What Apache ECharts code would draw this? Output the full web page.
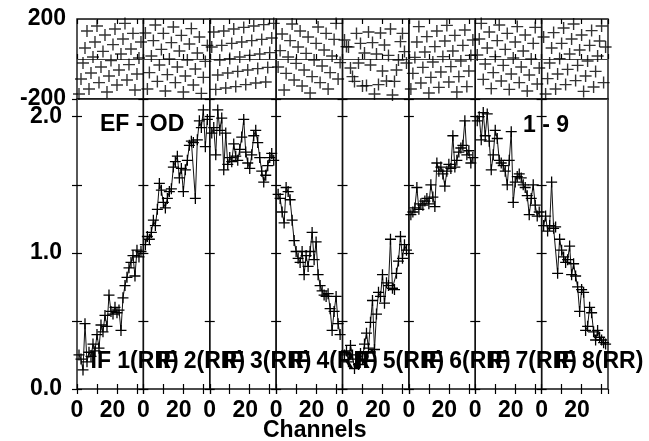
<!DOCTYPE html>
<html><head><meta charset="utf-8">
<script src="https://cdn.jsdelivr.net/npm/echarts@6/dist/echarts.min.js"></script>
<style>html,body{margin:0;padding:0;background:#fff}#c{width:649px;height:441px}</style>
</head><body><div id="c"></div>
<script>
// ---------- data ----------
const channels = [1,2,3,4,5,6,7,8,9,10,11,12,13,14,15,16,17,18,19,20,21,22,23,24,25,26,27,28,29,30,31,32];
const ifLabels = ['IF 1(RR)','IF 2(RR)','IF 3(RR)','IF 4(RR)','IF 5(RR)','IF 6(RR)','IF 7(RR)','IF 8(RR)'];
const sourceLabel = 'EF - OD';
const baselineLabel = '1 - 9';
const xAxisName = 'Channels';
const ampTickLabels = ['0.0','1.0','2.0'];
const phaseTickLabels = ['-200','200'];
const chanTickLabels = ['0','20'];

const amp1 = [0.25,0.22,0.14,0.48,0.20,0.27,0.24,0.33,0.28,0.40,0.30,0.47,0.42,0.54,0.46,0.69,0.57,0.55,0.60,0.56,0.58,0.43,0.67,0.76,0.82,0.89,0.93,0.98,0.83,1.02,0.97,1.01];
const amp2 = [1.06,1.12,1.10,1.15,1.24,1.20,1.32,1.51,1.46,1.37,1.33,1.40,1.45,1.47,1.63,1.67,1.71,1.55,1.62,1.45,1.61,1.68,1.79,1.82,1.81,1.40,1.83,1.97,1.92,2.05,1.78,1.98];
const amp3 = [1.88,1.92,1.72,2.05,1.90,1.99,1.61,1.88,1.65,1.70,1.67,1.80,1.71,1.68,1.76,1.85,1.98,1.74,1.66,1.62,1.72,1.86,1.90,1.81,1.70,1.60,1.52,1.57,1.64,1.70,1.73,1.68];
const amp4 = [1.43,1.40,1.30,1.22,1.48,1.45,1.39,1.24,1.09,1.01,0.96,0.93,1.01,0.84,0.98,0.90,1.01,1.15,0.95,1.08,0.84,0.76,0.72,0.69,0.68,0.70,0.59,0.43,0.57,0.68,0.48,0.40];
const amp5 = [0.25,0.28,0.20,0.32,0.25,0.15,0.22,0.18,0.26,0.22,0.33,0.41,0.30,0.49,0.65,0.29,0.55,0.71,0.68,0.84,0.63,0.78,0.76,1.10,0.74,0.73,0.85,0.94,1.12,0.96,1.06,1.02];
const amp6 = [1.28,1.30,1.33,1.48,1.32,1.36,1.35,1.38,1.40,1.36,1.50,1.41,1.34,1.66,1.60,1.63,1.58,1.49,1.60,1.65,1.62,1.86,1.63,1.68,1.74,1.77,1.79,1.97,1.72,1.75,1.66,1.70];
const amp7 = [1.97,2.00,1.83,2.03,1.86,2.02,1.82,1.61,1.72,1.90,1.84,1.68,1.66,1.64,1.60,1.50,1.68,1.89,1.37,1.52,1.56,1.58,1.55,1.50,1.48,1.42,1.28,1.40,1.50,1.35,1.27,1.30];
const amp8 = [1.20,1.27,1.16,1.20,1.52,1.18,1.19,0.85,1.10,1.02,0.97,0.93,0.95,1.05,0.84,0.92,0.83,0.75,0.57,0.73,0.71,0.43,0.46,0.60,0.56,0.42,0.36,0.43,0.38,0.36,0.34,0.33];

const phase1 = [-175,-100,-20,55,140,-150,-70,10,85,165,-118,-40,38,120,-165,-85,-8,72,150,-130,-55,25,100,178,-105,-28,50,128,-155,-75,5,85];
const phase2 = [130,-150,-68,15,92,170,-112,-30,48,128,-160,-78,0,82,160,-118,-40,40,118,-165,-85,-5,75,152,-130,-50,30,110,-172,-92,-12,68];
const phase3 = [60,135,-152,-80,-5,68,140,-145,-70,2,78,150,-138,-62,10,85,158,-128,-55,18,92,165,-120,-48,25,98,172,-115,-42,32,105,178];
const phase4 = [-40,42,125,-155,-72,10,92,175,-105,-22,60,140,-135,-55,28,110,-170,-88,-5,78,160,-118,-35,45,128,-150,-68,15,98,178,-100,-18];
const phase5 = [95,62,60,-45,-88,-112,128,-20,78,-135,30,-133,135,-30,82,-175,25,-128,130,-60,70,-110,18,150,-180,-112,-55,-5,87,128,37,-20];
const phase6 = [-150,-72,8,85,162,-120,-42,35,112,-170,-92,-15,62,140,-142,-65,12,90,168,-115,-38,40,118,-165,-88,-10,68,145,-138,-60,18,95];
const phase7 = [20,100,178,-102,-25,55,135,-148,-68,12,92,170,-110,-32,48,128,-152,-75,5,85,162,-118,-40,40,120,-160,-80,0,78,158,-125,-45];
const phase8 = [110,-175,-98,-20,55,132,-150,-75,2,78,155,-128,-52,25,100,175,-108,-32,45,120,-162,-85,-10,68,142,-140,-62,15,90,165,-118,60];

const ampSets = [amp1,amp2,amp3,amp4,amp5,amp6,amp7,amp8];
const phaseSets = [phase1,phase2,phase3,phase4,phase5,phase6,phase7,phase8];

// ---------- layout / style ----------
const FONT = 'Liberation Sans, Arial, Helvetica, sans-serif';
const FS = 23;
const plotLeft = 77, plotRight = 608;
const panelW = (plotRight - plotLeft) / 8;
const phaseTop = 19, phaseH = 80;
const ampTop = 99, ampH = 290;
const CROSS = 'path://M0,5.3H12V6.7H0Z M5.3,0H6.7V12H5.3Z';

const grid = [], xAxis = [], yAxis = [], series = [], graphic = [];
const tickStyle = {show:true, inside:true, length:5, lineStyle:{color:'#000', width:1.2}};

for (let p = 0; p < 8; p++) {
  const left = plotLeft + p * panelW;
  const gPh = grid.length;
  grid.push({left:left, top:phaseTop, width:panelW, height:phaseH, show:true, borderColor:'#111', borderWidth:1.4, backgroundColor:'transparent'});
  const gAm = grid.length;
  grid.push({left:left, top:ampTop, width:panelW, height:ampH, show:true, borderColor:'#111', borderWidth:1.4, backgroundColor:'transparent'});

  const xPh = xAxis.length;
  xAxis.push({type:'value', gridIndex:gPh, position:'bottom', min:0, max:33.2, interval:10, axisLine:{show:false}, axisTick:tickStyle, axisLabel:{show:false}, splitLine:{show:false}});
  xAxis.push({type:'value', gridIndex:gPh, position:'top', min:0, max:33.2, interval:10, axisLine:{show:false}, axisTick:tickStyle, axisLabel:{show:false}, splitLine:{show:false}});
  const xAm = xAxis.length;
  xAxis.push({type:'value', gridIndex:gAm, position:'bottom', min:0, max:33.2, interval:10,
    axisLine:{show:false}, axisTick:tickStyle, splitLine:{show:false},
    axisLabel:{show:true, margin:10, showMinLabel:true, showMaxLabel:false,
      color:'#000', fontFamily:FONT, fontWeight:'bold', fontSize:FS,
      formatter: v => v === 0 ? chanTickLabels[0] : (v === 20 ? '{s|' + chanTickLabels[1] + '}' : ''),
      rich:{s:{fontFamily:FONT, fontWeight:'bold', fontSize:FS, color:'#000', padding:[0,9,0,0]}}}});
  xAxis.push({type:'value', gridIndex:gAm, position:'top', min:0, max:33.2, interval:10, axisLine:{show:false}, axisTick:tickStyle, axisLabel:{show:false}, splitLine:{show:false}});

  const yPh = yAxis.length;
  yAxis.push({type:'value', gridIndex:gPh, position:'left', min:-200, max:200, interval:200,
    axisLine:{show:false}, axisTick:{show:false},
    splitLine:{show:true, lineStyle:{color:'#444', width:1.2}},
    axisLabel:{show:p === 0, margin:11, color:'#000', fontFamily:FONT, fontWeight:'bold', fontSize:FS,
      showMinLabel:true, showMaxLabel:true,
      formatter: v => v === -200 ? phaseTickLabels[0] : (v === 200 ? phaseTickLabels[1] : '')}});
  const yAm = yAxis.length;
  yAxis.push({type:'value', gridIndex:gAm, position:'left', min:0, max:2.13, interval:0.5,
    axisLine:{show:false}, axisTick:tickStyle, splitLine:{show:false},
    axisLabel:{show:p === 0, margin:15, color:'#000', fontFamily:FONT, fontWeight:'bold', fontSize:FS,
      showMinLabel:true, showMaxLabel:false,
      formatter: v => v === 0 ? ampTickLabels[0] : (v === 1 ? ampTickLabels[1] : (v === 2 ? ampTickLabels[2] : ''))}});
  yAxis.push({type:'value', gridIndex:gAm, position:'right', min:0, max:2.13, interval:0.5,
    axisLine:{show:false}, axisTick:tickStyle, axisLabel:{show:false}, splitLine:{show:false}});

  const amps = ampSets[p], phs = phaseSets[p];
  series.push({type:'line', xAxisIndex:xAm, yAxisIndex:yAm,
    data: channels.map((c, i) => [c, amps[i]]),
    symbol:CROSS, symbolSize:11, showSymbol:true, showAllSymbol:true,
    itemStyle:{color:'#000'}, lineStyle:{color:'#111', width:1}, silent:true});
  series.push({type:'scatter', xAxisIndex:xPh, yAxisIndex:yPh,
    data: channels.map((c, i) => [c, phs[i]]),
    symbol:CROSS, symbolSize:12, itemStyle:{color:'#000'}, silent:true});

  graphic.push({type:'text', left:left + 13.5, top:350, z:100,
    style:{text:ifLabels[p], font:'bold ' + FS + 'px ' + FONT, fill:'#000'}});
}

graphic.push({type:'text', left:100, top:113, z:100, style:{text:sourceLabel, font:'bold ' + FS + 'px ' + FONT, fill:'#000'}});
graphic.push({type:'text', left:523, top:114, z:100, style:{text:baselineLabel, font:'bold ' + FS + 'px ' + FONT, fill:'#000'}});
graphic.push({type:'text', left:263, top:419, z:100, style:{text:xAxisName, font:'bold ' + FS + 'px ' + FONT, fill:'#000'}});

const chart = echarts.init(document.getElementById('c'), null, {renderer:'canvas'});
chart.setOption({animation:false, backgroundColor:'#fff', grid, xAxis, yAxis, series, graphic});
</script></body></html>
